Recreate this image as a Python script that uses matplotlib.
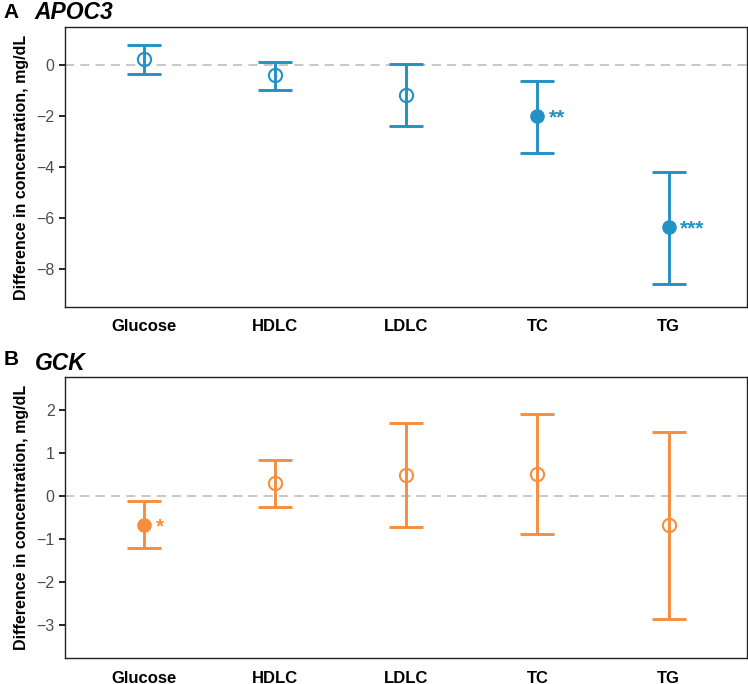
import matplotlib.pyplot as plt
import numpy as np

plt.rcParams['font.family'] = ['Liberation Sans', 'DejaVu Sans']

traits = ['Glucose', 'HDLC', 'LDLC', 'TC', 'TG']

# panel A: APOC3
apoc3_est = [0.23, -0.39, -1.18, -2.0, -6.35]
apoc3_lo = [-0.35, -0.98, -2.39, -3.45, -8.59]
apoc3_hi = [0.78, 0.12, 0.04, -0.63, -4.2]
apoc3_sig = ['', '', '', '**', '***']

# panel B: GCK
gck_est = [-0.67, 0.30, 0.49, 0.51, -0.67]
gck_lo = [-1.22, -0.26, -0.71, -0.88, -2.86]
gck_hi = [-0.12, 0.84, 1.70, 1.90, 1.49]
gck_sig = ['*', '', '', '', '']

blue = '#2391C4'
orange = '#F68E3F'

fig = plt.figure(figsize=(7.48, 6.84), dpi=100)
axA = fig.add_axes([0.087, 0.5512, 0.912, 0.4094])
axB = fig.add_axes([0.087, 0.038, 0.912, 0.4108])


def panel(ax, est, lo, hi, sig, col, ylim, yticks):
    x = np.arange(1, len(traits) + 1)
    ax.axhline(0, color='#B8B8B8', lw=1.1, ls=(0, (6, 4)), zorder=1)
    est = np.array(est)
    lo = np.array(lo)
    hi = np.array(hi)
    ax.errorbar(x, est, yerr=[est - lo, hi - est], fmt='none', ecolor=col,
                elinewidth=2.1, capsize=12, capthick=2.1, zorder=2)
    for xi, e, s in zip(x, est, sig):
        if s:
            ax.plot(xi, e, 'o', color=col, ms=9.5, zorder=3)
            ax.text(xi + 0.09, e - 0.006 * (ylim[1] - ylim[0]), s,
                    color=col, fontsize=15, fontweight='bold',
                    va='center', ha='left')
        else:
            ax.plot(xi, e, 'o', mfc='none', mec=col, mew=1.5, ms=9.5, zorder=3)
    ax.set_xlim(0.4, 5.6)
    ax.set_ylim(*ylim)
    ax.set_yticks(yticks)
    ax.set_yticklabels([str(t).replace('-', '\u2212') for t in yticks])
    ax.set_xticks(x)
    ax.set_xticklabels(traits, fontweight='bold', fontsize=12)
    ax.tick_params(axis='x', length=0, pad=9, colors='black')
    ax.tick_params(axis='y', length=4, width=1.2, labelsize=11.5,
                   labelcolor='#4D4D4D', color='black')
    for sp in ax.spines.values():
        sp.set_linewidth(1.0)
        sp.set_color('#222222')
    ax.set_ylabel('Difference in concentration, mg/dL', fontweight='bold',
                  fontsize=11.5, labelpad=5)


panel(axA, apoc3_est, apoc3_lo, apoc3_hi, apoc3_sig, blue,
      (-9.5, 1.5), [-8, -6, -4, -2, 0])
panel(axB, gck_est, gck_lo, gck_hi, gck_sig, orange,
      (-3.77, 2.77), [-3, -2, -1, 0, 1, 2])

fig.text(0.005, 0.981, 'A', fontsize=15, fontweight='bold', va='center')
fig.text(0.046, 0.981, 'APOC3', fontsize=16.5, fontweight='bold',
         style='italic', va='center')
fig.text(0.005, 0.474, 'B', fontsize=15, fontweight='bold', va='center')
fig.text(0.046, 0.468, 'GCK', fontsize=16.5, fontweight='bold',
         style='italic', va='center')

fig.savefig('out.png', dpi=100)
